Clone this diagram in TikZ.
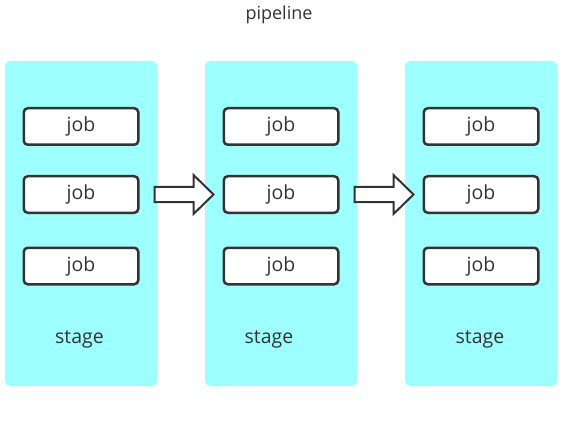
\documentclass[tikz,border=0pt]{standalone}
\usepackage{fontspec}
\setmainfont{Open Sans}
\usetikzlibrary{calc}
\definecolor{stagecyan}{RGB}{158,255,255}
\definecolor{inkgray}{RGB}{51,51,51}

\begin{document}
\begin{tikzpicture}[x=1pt,y=-1pt,
  stage/.style={fill=stagecyan,rounded corners=5pt,minimum width=152pt,minimum height=325pt,inner sep=0pt,outer sep=0pt},
  job/.style={draw=inkgray,line width=2.5pt,fill=white,rounded corners=4pt,minimum width=114.5pt,minimum height=36.5pt,inner sep=0pt,text=inkgray,font=\fontsize{19.5}{19.5}\selectfont},
  label/.style={text=inkgray,font=\fontsize{19.5}{19.5}\selectfont},
  blockarrow/.style={draw=inkgray,line width=2pt,fill=white,line join=miter}]
  \useasboundingbox (0,0) rectangle (569,438);
  \node[text=inkgray,font=\fontsize{18}{18}\selectfont] (title) at (279,15) {pipeline};

  \node[stage] (s1) at (81,223.5) {};
  \node[stage] (s2) at (281,223.5) {};
  \node[stage] (s3) at (481,223.5) {};

  \node[job] (j11) at ($ (s1.north) + (0,65.5) $) {job};
  \node[job] (j12) at ($ (j11) + (0,68) $) {job};
  \node[job] (j13) at ($ (j12) + (0,71.5) $) {job};
  \node[job] (j21) at ($ (s2.north) + (0,65.5) $) {job};
  \node[job] (j22) at ($ (j21) + (0,68) $) {job};
  \node[job] (j23) at ($ (j22) + (0,71.5) $) {job};
  \node[job] (j31) at ($ (s3.north) + (0,65.5) $) {job};
  \node[job] (j32) at ($ (j31) + (0,68) $) {job};
  \node[job] (j33) at ($ (j32) + (0,71.5) $) {job};

  \node[label] (l1) at ($ (s1.south) + (-1.5,-47) $) {stage};
  \node[label] (l2) at ($ (s2.south) + (-12,-47) $) {stage};
  \node[label] (l3) at ($ (s3.south) + (-1,-47) $) {stage};

  \draw[blockarrow] let \p1=($ (j12.east) + (15,0) $), \p2=($ (j22.west) + (-9,0) $) in
        (\x1,\y1-7.5) -- (\x2-20,\y1-7.5) -- (\x2-20,\y1-19.5) -- (\x2,\y2)
        -- (\x2-20,\y1+19.5) -- (\x2-20,\y1+7.5) -- (\x1,\y1+7.5) -- cycle;
  \draw[blockarrow] let \p1=($ (j22.east) + (15,0) $), \p2=($ (j32.west) + (-9,0) $) in
        (\x1,\y1-7.5) -- (\x2-20,\y1-7.5) -- (\x2-20,\y1-19.5) -- (\x2,\y2)
        -- (\x2-20,\y1+19.5) -- (\x2-20,\y1+7.5) -- (\x1,\y1+7.5) -- cycle;
\end{tikzpicture}
\end{document}
